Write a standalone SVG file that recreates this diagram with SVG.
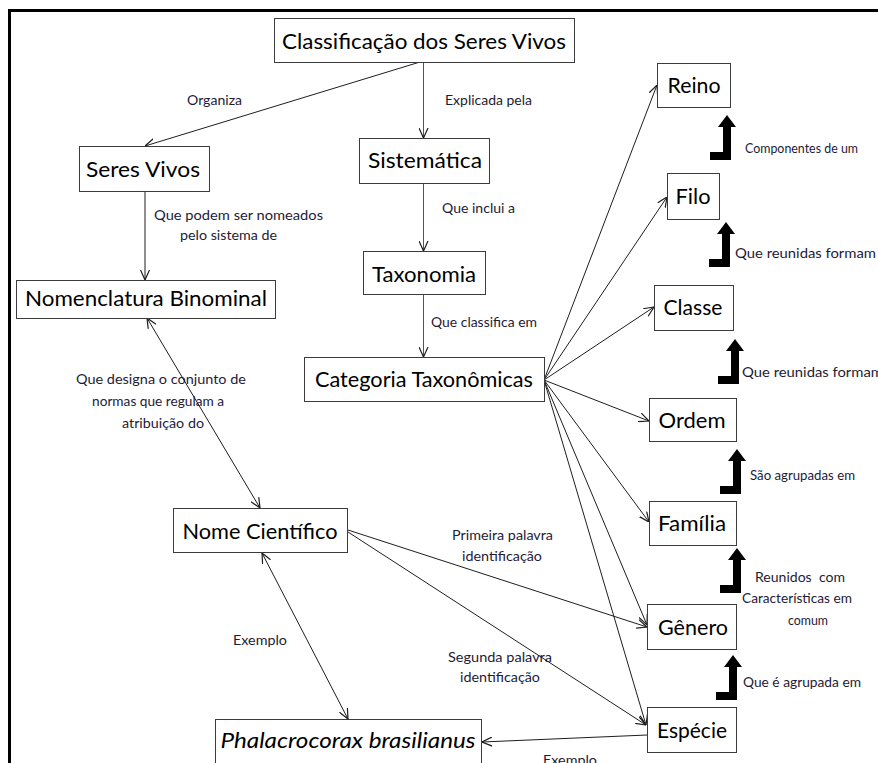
<svg xmlns="http://www.w3.org/2000/svg" xmlns:xlink="http://www.w3.org/1999/xlink" width="878" height="763" viewBox="0 0 878 763">
  <style>
    .box{fill:#fff;stroke:#3c3c3c;stroke-width:1}
    .nt{font-family:Lato,"Open Sans",sans-serif;font-size:22px;fill:#000;text-anchor:middle}
    .it{font-style:italic}
    .lb{font-family:Lato,"Open Sans",sans-serif;font-size:14px;fill:#1e1b36}
    .mid{text-anchor:middle}
    .ln{stroke:#1e1e1e;stroke-width:1;fill:none}
    .gr{stroke:#555}
    .bend{fill:#000}
  </style>
  <defs>
    <marker id="arr" viewBox="0 0 10 10" refX="10" refY="5" markerWidth="10" markerHeight="10" markerUnits="userSpaceOnUse" orient="auto-start-reverse">
      <path d="M0,0.5 L10,5 L0,9.5" fill="none" stroke="#1e1e1e" stroke-width="1.2"/>
    </marker>
    <!-- bent-up block arrow, origin at the tip -->
    <path id="bendUp" d="M0,0 L9,12 L4,12 L4,45 L-17,45 L-17,37 L-4,37 L-4,12 L-9,12 Z"/>
  </defs>

  <rect width="878" height="763" fill="#fff"/>
  <!-- frame -->
  <rect x="9.5" y="10.5" width="900" height="800" fill="none" stroke="#000" stroke-width="3"/>

  <g id="connectors">
    <line class="ln" x1="420" y1="62" x2="145" y2="146" marker-end="url(#arr)"/>
    <line class="ln gr" x1="423.5" y1="62" x2="423.5" y2="138" marker-end="url(#arr)"/>
    <line class="ln" x1="145" y1="191" x2="145" y2="280" marker-end="url(#arr)"/>
    <line class="ln gr" x1="423.5" y1="183" x2="423.5" y2="251" marker-end="url(#arr)"/>
    <line class="ln gr" x1="423.5" y1="294" x2="423.5" y2="357" marker-end="url(#arr)"/>
    <line class="ln" x1="147" y1="318" x2="260" y2="508" marker-start="url(#arr)" marker-end="url(#arr)"/>
    <line class="ln" x1="262" y1="553" x2="348" y2="719" marker-start="url(#arr)" marker-end="url(#arr)"/>
    <line class="ln" x1="348" y1="530" x2="647" y2="627" marker-end="url(#arr)"/>
    <line class="ln" x1="348" y1="532" x2="646" y2="725" marker-end="url(#arr)"/>
    <line class="ln" x1="544" y1="380" x2="657" y2="85" marker-end="url(#arr)"/>
    <line class="ln" x1="544" y1="380" x2="667" y2="197" marker-end="url(#arr)"/>
    <line class="ln" x1="544" y1="380" x2="654" y2="307" marker-end="url(#arr)"/>
    <line class="ln" x1="544" y1="380" x2="649" y2="421" marker-end="url(#arr)"/>
    <line class="ln" x1="544" y1="380" x2="649" y2="522" marker-end="url(#arr)"/>
    <line class="ln" x1="544" y1="380" x2="647" y2="625" marker-end="url(#arr)"/>
    <line class="ln" x1="544" y1="380" x2="646" y2="725" marker-end="url(#arr)"/>
    <line class="ln" x1="647" y1="735" x2="482" y2="742" marker-end="url(#arr)"/>
  </g>

  <g id="edge-labels">
    <text class="lb mid" x="214.5" y="105" textLength="55" lengthAdjust="spacingAndGlyphs">Organiza</text>
    <text class="lb mid" x="488.5" y="105" textLength="87" lengthAdjust="spacingAndGlyphs">Explicada pela</text>
    <text class="lb mid" x="238.5" y="220" textLength="169" lengthAdjust="spacingAndGlyphs">Que podem ser nomeados</text>
    <text class="lb mid" x="228.5" y="240" textLength="97" lengthAdjust="spacingAndGlyphs">pelo sistema de</text>
    <text class="lb mid" x="478.5" y="213" textLength="73" lengthAdjust="spacingAndGlyphs">Que inclui a</text>
    <text class="lb mid" x="484" y="327" textLength="106" lengthAdjust="spacingAndGlyphs">Que classifica em</text>
    <text class="lb mid" x="161" y="384" textLength="170" lengthAdjust="spacingAndGlyphs">Que designa o conjunto de</text>
    <text class="lb mid" x="158" y="406" textLength="132" lengthAdjust="spacingAndGlyphs">normas que regulam a</text>
    <text class="lb mid" x="163" y="428" textLength="82" lengthAdjust="spacingAndGlyphs">atribuição do</text>
    <text class="lb mid" x="502.5" y="540" textLength="101" lengthAdjust="spacingAndGlyphs">Primeira palavra</text>
    <text class="lb mid" x="502" y="561" textLength="80" lengthAdjust="spacingAndGlyphs">identificação</text>
    <text class="lb mid" x="500" y="662" textLength="104" lengthAdjust="spacingAndGlyphs">Segunda palavra</text>
    <text class="lb mid" x="500" y="682" textLength="80" lengthAdjust="spacingAndGlyphs">identificação</text>
    <text class="lb mid" x="260" y="645" textLength="54" lengthAdjust="spacingAndGlyphs">Exemplo</text>
    <text class="lb mid" x="570" y="765" textLength="54" lengthAdjust="spacingAndGlyphs">Exemplo</text>
  </g>

  <g id="hierarchy-arrows">
    <use xlink:href="#bendUp" class="bend" x="727" y="115"/>
    <text class="lb" x="745" y="153" textLength="113" lengthAdjust="spacingAndGlyphs">Componentes de um</text>
    <use xlink:href="#bendUp" class="bend" x="726" y="222"/>
    <text class="lb" x="735" y="258" textLength="141" lengthAdjust="spacingAndGlyphs">Que reunidas formam</text>
    <use xlink:href="#bendUp" class="bend" x="735" y="339"/>
    <text class="lb" x="742" y="377" textLength="141" lengthAdjust="spacingAndGlyphs">Que reunidas formam</text>
    <use xlink:href="#bendUp" class="bend" x="737" y="449"/>
    <text class="lb" x="750" y="480" textLength="105" lengthAdjust="spacingAndGlyphs">São agrupadas em</text>
    <use xlink:href="#bendUp" class="bend" x="737" y="548"/>
    <text class="lb mid" x="800" y="582" textLength="90" lengthAdjust="spacingAndGlyphs" style="white-space:pre">Reunidos  com</text>
    <text class="lb mid" x="797" y="603" textLength="110" lengthAdjust="spacingAndGlyphs">Características em</text>
    <text class="lb mid" x="808" y="625" textLength="40" lengthAdjust="spacingAndGlyphs">comum</text>
    <use xlink:href="#bendUp" class="bend" x="733" y="655"/>
    <text class="lb" x="743" y="687" textLength="118" lengthAdjust="spacingAndGlyphs">Que é agrupada em</text>
  </g>

  <g id="classificacao">
    <rect class="box" x="274.5" y="18.5" width="300" height="44"/>
    <text class="nt" x="424" y="49" textLength="284" lengthAdjust="spacingAndGlyphs">Classificação dos Seres Vivos</text>
  </g>
  <g id="seres-vivos">
    <rect class="box" x="79.5" y="146.5" width="130" height="45"/>
    <text class="nt" x="143" y="177" textLength="114" lengthAdjust="spacingAndGlyphs">Seres Vivos</text>
  </g>
  <g id="sistematica">
    <rect class="box" x="359.5" y="138.5" width="130" height="45"/>
    <text class="nt" x="425" y="168" textLength="114" lengthAdjust="spacingAndGlyphs">Sistemática</text>
  </g>
  <g id="taxonomia">
    <rect class="box" x="363.5" y="251.5" width="122" height="43"/>
    <text class="nt" x="424" y="282" textLength="104" lengthAdjust="spacingAndGlyphs">Taxonomia</text>
  </g>
  <g id="categoria">
    <rect class="box" x="304.5" y="357.5" width="240" height="44"/>
    <text class="nt" x="424" y="387" textLength="218" lengthAdjust="spacingAndGlyphs">Categoria Taxonômicas</text>
  </g>
  <g id="nomenclatura">
    <rect class="box" x="16.5" y="280.5" width="259" height="38"/>
    <text class="nt" x="146" y="306" textLength="242" lengthAdjust="spacingAndGlyphs">Nomenclatura Binominal</text>
  </g>
  <g id="nome-cientifico">
    <rect class="box" x="173.5" y="508.5" width="174" height="44"/>
    <text class="nt" x="260" y="539" textLength="155" lengthAdjust="spacingAndGlyphs">Nome Científico</text>
  </g>
  <g id="exemplo-especie">
    <rect class="box" x="215.5" y="719.5" width="266" height="60"/>
    <text class="nt it" x="348" y="748" textLength="255" lengthAdjust="spacingAndGlyphs">Phalacrocorax brasilianus</text>
  </g>
  <g id="reino">
    <rect class="box" x="657.5" y="63.5" width="73" height="44"/>
    <text class="nt" x="694" y="93" textLength="53" lengthAdjust="spacingAndGlyphs">Reino</text>
  </g>
  <g id="filo">
    <rect class="box" x="667.5" y="173.5" width="52" height="46"/>
    <text class="nt" x="693" y="204" textLength="35" lengthAdjust="spacingAndGlyphs">Filo</text>
  </g>
  <g id="classe">
    <rect class="box" x="654.5" y="285.5" width="79" height="45"/>
    <text class="nt" x="693" y="315" textLength="59" lengthAdjust="spacingAndGlyphs">Classe</text>
  </g>
  <g id="ordem">
    <rect class="box" x="649.5" y="398.5" width="87" height="43"/>
    <text class="nt" x="692" y="428" textLength="67" lengthAdjust="spacingAndGlyphs">Ordem</text>
  </g>
  <g id="familia">
    <rect class="box" x="649.5" y="501.5" width="87" height="44"/>
    <text class="nt" x="692" y="531" textLength="68" lengthAdjust="spacingAndGlyphs">Família</text>
  </g>
  <g id="genero">
    <rect class="box" x="647.5" y="604.5" width="89" height="45"/>
    <text class="nt" x="693" y="635" textLength="70" lengthAdjust="spacingAndGlyphs">Gênero</text>
  </g>
  <g id="especie">
    <rect class="box" x="647.5" y="707.5" width="89" height="45"/>
    <text class="nt" x="692" y="738" textLength="70" lengthAdjust="spacingAndGlyphs">Espécie</text>
  </g>
</svg>
